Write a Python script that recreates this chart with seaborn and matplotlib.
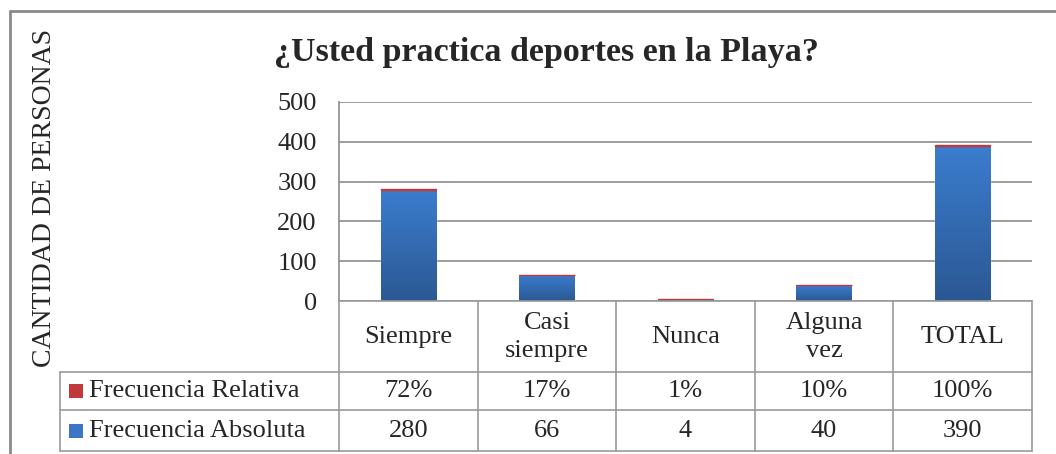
import numpy as np
import pandas as pd
import matplotlib
matplotlib.use("Agg")
import matplotlib.pyplot as plt
import seaborn as sns
from matplotlib.colors import LinearSegmentedColormap

categories = ["Siempre", "Casi siempre", "Nunca", "Alguna vez", "TOTAL"]
header_labels = ["Siempre", "Casi\nsiempre", "Nunca", "Alguna\nvez", "TOTAL"]
absoluta = [280, 66, 4, 40, 390]
relativa = [0.72, 0.17, 0.01, 0.10, 1.00]
relativa_labels = ["72%", "17%", "1%", "10%", "100%"]
yticks = [0, 100, 200, 300, 400, 500]

title = "¿Usted practica deportes en la Playa?"
ylabel = "CANTIDAD DE PERSONAS"
series_names = ["Frecuencia Relativa", "Frecuencia Absoluta"]
series_colors = ["#C0393B", "#3A76C4"]

sns.set_style("white")
plt.rcParams["font.family"] = ["Liberation Serif", "DejaVu Serif"]

W, H = 1056, 454
fig = plt.figure(figsize=(W / 100, H / 100), dpi=100)

def fx(px):
    return px / W

def fy(py):
    return 1 - py / H

# bar area
ax = fig.add_axes([fx(339), fy(301), fx(1032) - fx(339), fy(102) - fy(301)])
df = pd.DataFrame({"cat": categories, "abs": absoluta, "rel": relativa})
sns.barplot(data=df, x="cat", y="abs", color=series_colors[1], width=0.40,
            saturation=1, ax=ax, zorder=3)

# vertical gradient on the blue bars
cmap = LinearSegmentedColormap.from_list("bl", ["#2B5893", "#3B7DCF"])
grad = np.linspace(0, 1, 256).reshape(-1, 1)
for p in list(ax.patches):
    x0, y0 = p.get_x(), p.get_y()
    w, h = p.get_width(), p.get_height()
    if h <= 0:
        continue
    im = ax.imshow(grad, cmap=cmap, aspect="auto", origin="lower",
                   extent=[x0, x0 + w, y0, y0 + h], zorder=4)
    im.set_clip_path(p)

# thin red relative segment stacked on top
bw = ax.patches[0].get_width()
ax.bar(np.arange(len(categories)), relativa, bottom=absoluta, width=bw,
       color=series_colors[0], edgecolor=series_colors[0], linewidth=1.0, zorder=5)

ax.set_xlim(-0.5, len(categories) - 0.5)
ax.set_ylim(0, 500)
ax.set_yticks(yticks)
ax.set_yticklabels([str(t) for t in yticks], fontsize=19)
ax.tick_params(axis="y", length=0, pad=16)
ax.set_xticks([])
ax.set_xlabel("")
ax.set_ylabel("")
ax.grid(axis="y", color="#8C8C8C", linewidth=1.2, zorder=0)
for s in ["top", "right", "bottom"]:
    ax.spines[s].set_visible(False)
ax.spines["left"].set_color("#8C8C8C")
ax.spines["left"].set_linewidth(1.2)

# data table under the bars
tab = fig.add_axes([fx(60), fy(451), fx(1032) - fx(60), fy(301) - fy(451)])
cw = (1032 - 339) / len(categories)
left = len(categories) - 0.5 - (1032 - 60) / cw
tab.set_xlim(left, len(categories) - 0.5)
tab.set_ylim(150, 0)
tab.axis("off")
lc = "#9A9A9A"
rows = [0, 71, 109, 150]
for r in rows:
    tab.plot([left if r > 0 else -0.5, len(categories) - 0.5], [r, r], color=lc, lw=1.2, clip_on=False)
for i in range(len(categories) + 1):
    tab.plot([i - 0.5, i - 0.5], [0, 150], color=lc, lw=1.2, clip_on=False)
tab.plot([left, left], [71, 150], color=lc, lw=1.2, clip_on=False)

for i, lab in enumerate(header_labels):
    tab.text(i, 36, lab, ha="center", va="center", fontsize=19, linespacing=1.3)
for i in range(len(categories)):
    tab.text(i, 90, relativa_labels[i], ha="center", va="center", fontsize=19)
    tab.text(i, 130, str(absoluta[i]), ha="center", va="center", fontsize=19)

for name, col, yc in zip(series_names, series_colors, [90, 130]):
    tab.add_patch(plt.Rectangle((left + 9 / cw, yc - 7), 14 / cw, 14,
                                facecolor=col, edgecolor="none"))
    tab.text(left + 29 / cw, yc, name, ha="left", va="center", fontsize=19)

fig.text(fx(546), fy(52), title, ha="center", va="center", fontsize=24.5, fontweight="bold")
fig.text(fx(45), fy(198), ylabel, ha="center", va="center", rotation=90, fontsize=20)

# outer chart frame
fig.add_artist(plt.Line2D([fx(10), 1], [fy(11), fy(11)], color="#8A8A8A", lw=2))
fig.add_artist(plt.Line2D([fx(10), fx(10)], [0, fy(11)], color="#8A8A8A", lw=2))

fig.savefig("out.png", dpi=100)
